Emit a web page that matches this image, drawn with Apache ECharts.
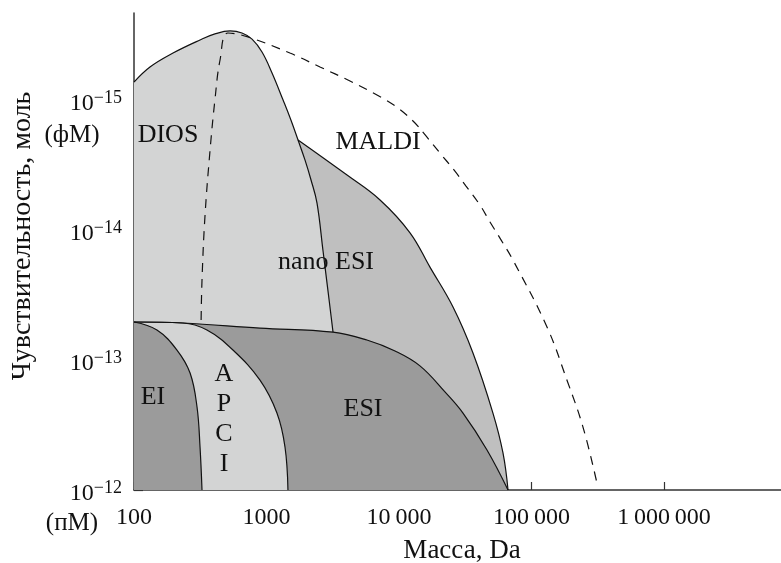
<!DOCTYPE html>
<html>
<head>
<meta charset="utf-8">
<script src="https://cdn.jsdelivr.net/npm/echarts@6/dist/echarts.min.js"></script>
<style>
  html, body { margin: 0; padding: 0; background: #fff; }
  #chart { width: 781px; height: 563px; }
</style>
</head>
<body>
<div id="chart"></div>
<script>
// Mass axis (Da) ticks and their printed labels
const massTicks = [100, 1000, 10000, 100000, 1000000];
const massTickLabels = ['100', '1000', '10\u2009000', '100\u2009000', '1\u2009000\u2009000'];

// Sensitivity axis (mol) ticks and their exponents
const sensTicks = [1e-15, 1e-14, 1e-13, 1e-12];
const sensTickExponents = ['\u221215', '\u221214', '\u221213', '\u221212'];

// Region boundaries: [mass, Da ; sensitivity, mol]
const diosBoundary = [
  [100, 7.28e-16], [132, 5.57e-16], [197, 4.35e-16], [315, 3.45e-16], [408, 3.10e-16],
  [531, 2.94e-16], [653, 3.05e-16], [778, 3.40e-16], [925, 4.27e-16], [1101, 6.19e-16],
  [1334, 1.0e-15], [1531, 1.43e-15], [1730, 2.03e-15], [1954, 2.90e-15], [2168, 4.12e-15],
  [2404, 6.19e-15], [2667, 1.43e-14], [2911, 2.94e-14], [3177, 6.10e-14]
];
const nanoEsiBoundary = [
  [1730, 2.03e-15], [4055, 3.78e-15], [7194, 5.87e-15], [12110, 1.05e-14], [17130, 1.93e-14],
  [25570, 3.91e-14], [36170, 8.83e-14], [51170, 2.56e-13], [60930, 5.19e-13], [66510, 1e-12]
];
const maldiBoundary = [
  [321, 4.92e-14], [326, 2.43e-14], [343, 7.94e-15], [375, 2.43e-15], [408, 1.0e-15],
  [446, 4.92e-16], [512, 3.05e-16], [724, 3.27e-16], [1503, 4.35e-16], [2535, 5.57e-16],
  [4266, 7.14e-16], [6823, 9.16e-16], [9333, 1.11e-15], [12760, 1.45e-15], [15990, 1.89e-15],
  [20390, 2.56e-15], [25990, 3.45e-15], [32050, 4.59e-15], [40830, 6.43e-15], [48630, 8.68e-15],
  [58880, 1.19e-14], [72440, 1.70e-14], [130900, 5.57e-14], [185300, 1.43e-13],
  [244700, 3.28e-13], [311900, 8.84e-13]
];
const esiBoundary = [
  [100, 5.10e-14], [234, 5.19e-14], [893, 5.68e-14], [3177, 6.10e-14], [5728, 7.02e-14],
  [9333, 8.53e-14], [14390, 1.11e-13], [22230, 1.76e-13], [30410, 2.56e-13], [46150, 4.92e-13],
  [66510, 1e-12]
];
const apciBoundary = [
  [100, 5.10e-14], [234, 5.19e-14], [355, 5.88e-14], [558, 8.38e-14], [893, 1.43e-13],
  [1199, 2.56e-13], [1379, 4.67e-13], [1452, 1e-12]
];
const eiBoundary = [
  [100, 5.10e-14], [149, 5.88e-14], [211, 8.38e-14], [265, 1.26e-13], [299, 2.30e-13],
  [315, 4.67e-13], [326, 1e-12]
];

const SERIF = 'Liberation Serif';
const INK = '#111';
const LIGHT = '#d3d4d4';
const MEDIUM = '#bfbfbf';
const DARK = '#9b9b9b';

function region(name, data, fill) {
  return {
    name: name,
    type: 'line',
    data: data,
    smooth: 0.4,
    showSymbol: false,
    silent: true,
    lineStyle: { color: INK, width: 1.2 },
    areaStyle: { color: fill, opacity: 1, origin: 'end' }
  };
}

function textStyle(text, size, extra) {
  const s = {
    text: text, fill: INK,
    font: size + 'px "' + SERIF + '", serif',
    fontFamily: SERIF, fontSize: size,
    align: 'center', verticalAlign: 'middle',
    textAlign: 'center', textVerticalAlign: 'middle'
  };
  return Object.assign(s, extra || {});
}

function label(text, x, y, size) {
  return { type: 'text', x: x, y: y, z: 100, silent: true, style: textStyle(text, size || 26) };
}

function nearest(ticks, v) {
  let best = 0;
  ticks.forEach(function (t, i) {
    if (Math.abs(Math.log10(t) - Math.log10(v)) < Math.abs(Math.log10(ticks[best]) - Math.log10(v))) best = i;
  });
  return best;
}

const chart = echarts.init(document.getElementById('chart'), null, { renderer: 'canvas' });

chart.setOption({
  animation: false,
  backgroundColor: '#fff',
  textStyle: { fontFamily: SERIF },
  grid: { left: 134, right: 0, top: 13, bottom: 73 },
  xAxis: {
    type: 'log', logBase: 10, min: 100, max: 7.64e6,
    axisLine: { onZero: false, lineStyle: { color: '#333', width: 1.5 } },
    axisTick: { inside: true, length: 8, customValues: massTicks, lineStyle: { color: '#333', width: 1.2 } },
    axisLabel: {
      customValues: massTicks, margin: 16, color: INK, fontFamily: SERIF, fontSize: 24,
      formatter: function (v) { return massTickLabels[nearest(massTicks, v)]; }
    },
    splitLine: { show: false }
  },
  yAxis: {
    type: 'log', logBase: 10, inverse: true, min: 2.14e-16, max: 1e-12,
    axisLine: { onZero: false, lineStyle: { color: '#333', width: 1.5 } },
    axisTick: { inside: true, length: 9, customValues: sensTicks, lineStyle: { color: '#333', width: 1.2 } },
    axisLabel: {
      customValues: sensTicks, margin: 12, color: INK, fontFamily: SERIF, padding: [8, 0, 0, 0],
      formatter: function (v) {
        return '{b|10}{s|' + sensTickExponents[nearest(sensTicks, v)] + '}';
      },
      rich: {
        b: { fontFamily: SERIF, fontSize: 24, lineHeight: 30, color: INK },
        s: { fontFamily: SERIF, fontSize: 18, lineHeight: 18, verticalAlign: 'top', color: INK }
      }
    },
    splitLine: { show: false }
  },
  series: [
    region('nano ESI', nanoEsiBoundary, MEDIUM),
    region('DIOS', diosBoundary, LIGHT),
    {
      name: 'MALDI', type: 'line', data: maldiBoundary, smooth: 0.4, showSymbol: false, silent: true,
      lineStyle: { color: INK, width: 1.2, type: [9, 7] }
    },
    region('ESI', esiBoundary, DARK),
    region('APCI', apciBoundary, LIGHT),
    region('EI', eiBoundary, DARK)
  ],
  graphic: [
    label('DIOS', 168, 135),
    label('MALDI', 378, 142),
    label('nano ESI', 326, 262),
    label('EI', 153, 397),
    { type: 'text', x: 224, y: 419, z: 100, silent: true, style: textStyle('A\nP\nC\nI', 26, { lineHeight: 30 }) },
    label('ESI', 363, 409),
    label('(\u0444\u041c)', 72, 135, 25),
    label('(\u043f\u041c)', 72, 523, 25),
    label('\u041c\u0430\u0441\u0441\u0430, Da', 462, 551, 27),
    {
      type: 'text', x: 23, y: 236, rotation: Math.PI / 2, z: 100, silent: true,
      style: textStyle('\u0427\u0443\u0432\u0441\u0442\u0432\u0438\u0442\u0435\u043b\u044c\u043d\u043e\u0441\u0442\u044c, \u043c\u043e\u043b\u044c', 28)
    }
  ]
});
</script>
</body>
</html>
